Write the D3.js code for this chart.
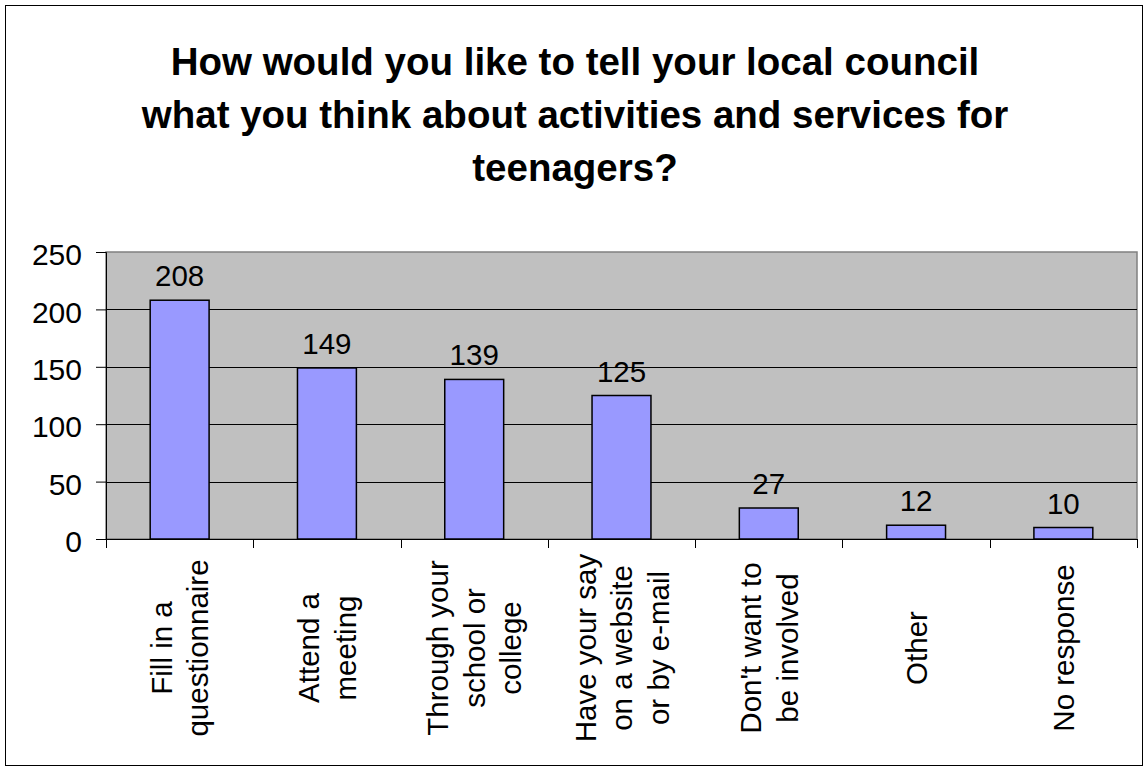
<!DOCTYPE html>
<html>
<head>
<meta charset="utf-8">
<script src="https://cdn.jsdelivr.net/npm/d3@7"></script>
<style>
html,body{margin:0;padding:0;background:#fff;}
svg{display:block;}
text{font-family:"Liberation Sans",Arial,sans-serif;fill:#000;}
</style>
</head>
<body>
<svg id="chart" width="1144" height="768"></svg>
<script>
const titleLines = ["How would you like to tell your local council","what you think about activities and services for","teenagers?"];
const categories = [
  ["Fill in a","questionnaire"],
  ["Attend a","meeting"],
  ["Through your","school or","college"],
  ["Have your say","on a website","or by e-mail"],
  ["Don't want to","be involved"],
  ["Other"],
  ["No response"]
];
const values = [208,149,139,125,27,12,10];
const yTicks = [0,50,100,150,200,250];

const svg = d3.select("#chart");
const plot = {left:106, right:1137, top:252, bottom:539};

// outer border
svg.append("rect").attr("x",5.5).attr("y",5.5).attr("width",1137).attr("height",760)
  .attr("fill","#fff").attr("stroke","#000").attr("stroke-width",1);

// title
const title = svg.append("text").attr("text-anchor","middle")
  .style("font-size","38.5px").style("font-weight","bold");
titleLines.forEach((t,i)=>{
  title.append("tspan").attr("x",575).attr("y",75 + i*53).text(t);
});

const x = d3.scaleBand().domain(d3.range(categories.length))
  .range([plot.left, plot.right]).paddingInner(0.6).paddingOuter(0.3);
const step = x.step();
const y = d3.scaleLinear().domain([0,250]).range([plot.bottom, plot.top]);

// plot area
svg.append("rect").attr("x",plot.left).attr("y",y(250))
  .attr("width",plot.right-plot.left).attr("height",y(0)-y(250))
  .attr("fill","#C0C0C0").attr("stroke","#808080").attr("stroke-width",1.5);

// gridlines
svg.append("g").selectAll("line").data(yTicks.filter(v=>v>0 && v<250)).join("line")
  .attr("x1",plot.left).attr("x2",plot.right)
  .attr("y1",d=>Math.round(y(d))+0.5).attr("y2",d=>Math.round(y(d))+0.5)
  .attr("stroke","#000").attr("stroke-width",1);

// y axis
const yAxis = d3.axisLeft(y).tickValues(yTicks).tickSize(10).tickPadding(14);
const gy = svg.append("g").attr("transform",`translate(${plot.left},0)`).call(yAxis);
gy.select(".domain").attr("stroke","#000");
gy.selectAll(".tick line").attr("stroke","#000");
gy.selectAll(".tick text").style("font-size","30px").attr("dy","0.42em")
  .style("font-family","'Liberation Sans',Arial,sans-serif").attr("fill","#000");

// bars
svg.append("g").selectAll("rect").data(values).join("rect")
  .attr("x",(d,i)=>x(i)).attr("width",x.bandwidth())
  .attr("y",d=>y(d)).attr("height",d=>y(0)-y(d))
  .attr("fill","#9999FF").attr("stroke","#000").attr("stroke-width",1.5);

// data labels
svg.append("g").selectAll("text").data(values).join("text")
  .attr("x",(d,i)=>x(i)+x.bandwidth()/2).attr("y",d=>y(d)-14)
  .attr("text-anchor","middle").style("font-size","29.5px").text(d=>d);

// x axis line and category ticks
svg.append("line").attr("x1",plot.left).attr("x2",plot.right)
  .attr("y1",plot.bottom+0.5).attr("y2",plot.bottom+0.5).attr("stroke","#000");
const bounds = d3.range(categories.length+1).map(i=>plot.left + i*step);
svg.append("g").selectAll("line").data(bounds).join("line")
  .attr("x1",d=>Math.round(d)+0.5).attr("x2",d=>Math.round(d)+0.5)
  .attr("y1",plot.bottom).attr("y2",plot.bottom+9).attr("stroke","#000");

// x labels, rotated
const lineH = 36.5;
const capH = 21;
categories.forEach((lines,i)=>{
  const cx = x(i) + x.bandwidth()/2;
  const n = lines.length;
  const firstBase = cx - ((n-1)*lineH - capH)/2;
  const g = svg.append("text").attr("text-anchor","middle").style("font-size","29.5px")
    .attr("transform",`translate(0,648) rotate(-90)`);
  lines.forEach((t,j)=>{
    g.append("tspan").attr("x",0).attr("y",firstBase + j*lineH).text(t);
  });
});
</script>
</body>
</html>
